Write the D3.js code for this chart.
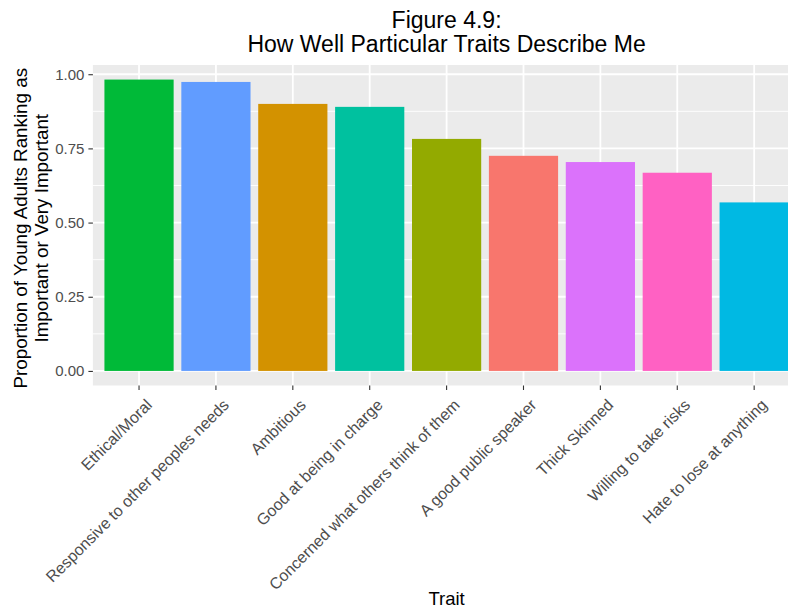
<!DOCTYPE html>
<html>
<head>
<meta charset="utf-8">
<script src="https://cdn.jsdelivr.net/npm/d3@7/dist/d3.min.js"></script>
<style>
  html, body { margin: 0; padding: 0; background: #ffffff; }
  svg { display: block; font-family: "Liberation Sans", Arial, sans-serif; }
</style>
</head>
<body>
<svg id="chart" width="788" height="608"></svg>
<script>
// Traits, ordered by proportion (descending)
const traits = [
  "Ethical/Moral",
  "Responsive to other peoples needs",
  "Ambitious",
  "Good at being in charge",
  "Concerned what others think of them",
  "A good public speaker",
  "Thick Skinned",
  "Willing to take risks",
  "Hate to lose at anything"
];
// Proportion of young adults ranking each trait as important or very important
const proportions = [0.982, 0.974, 0.900, 0.890, 0.782, 0.725, 0.704, 0.668, 0.568];
const yTicks = [0, 0.25, 0.5, 0.75, 1.0];
const yMinorTicks = [0.125, 0.375, 0.625, 0.875];
// Discrete hue palette, assigned to traits in alphabetical order
const huePalette = ["#F8766D", "#D39200", "#93AA00", "#00BA38", "#00C19F",
                    "#00B9E3", "#619CFF", "#DB72FB", "#FF61C3"];
const titleLines = ["Figure 4.9:", "How Well Particular Traits Describe Me"];
const yTitleLines = ["Proportion of Young Adults Ranking as", "Important or Very Important"];
const xTitle = "Trait";

const data = traits.map((t, i) => ({ trait: t, value: proportions[i] }));

const svg = d3.select("#chart");
const panel = { left: 92.9, right: 800.3, top: 65, bottom: 385.5 };

const maxV = d3.max(proportions);
const x = d3.scaleBand()
  .domain(traits)
  .range([panel.left, panel.right])
  .paddingInner(0.1)
  .paddingOuter(0.15);
const y = d3.scaleLinear()
  .domain([-0.05 * maxV, 1.05 * maxV])
  .range([panel.bottom, panel.top]);
const fill = d3.scaleOrdinal()
  .domain(traits.slice().sort(d3.ascending))
  .range(huePalette);

// Panel background
svg.append("rect")
  .attr("x", panel.left).attr("y", panel.top)
  .attr("width", panel.right - panel.left)
  .attr("height", panel.bottom - panel.top)
  .attr("fill", "#EBEBEB");

const grid = svg.append("g");
grid.selectAll("line.minor").data(yMinorTicks).join("line")
  .attr("class", "minor")
  .attr("x1", panel.left).attr("x2", panel.right)
  .attr("y1", d => y(d)).attr("y2", d => y(d))
  .attr("stroke", "#ffffff").attr("stroke-width", 0.9);
grid.selectAll("line.majory").data(yTicks).join("line")
  .attr("class", "majory")
  .attr("x1", panel.left).attr("x2", panel.right)
  .attr("y1", d => y(d)).attr("y2", d => y(d))
  .attr("stroke", "#ffffff").attr("stroke-width", 1.8);
grid.selectAll("line.majorx").data(traits).join("line")
  .attr("class", "majorx")
  .attr("x1", d => x(d) + x.bandwidth() / 2).attr("x2", d => x(d) + x.bandwidth() / 2)
  .attr("y1", panel.top).attr("y2", panel.bottom)
  .attr("stroke", "#ffffff").attr("stroke-width", 1.8);

// Bars
svg.append("g").selectAll("rect").data(data).join("rect")
  .attr("x", d => x(d.trait))
  .attr("width", x.bandwidth())
  .attr("y", d => y(d.value))
  .attr("height", d => y(0) - y(d.value))
  .attr("fill", d => fill(d.trait));

// Y axis
const yAxis = svg.append("g")
  .attr("transform", `translate(${panel.left},0)`)
  .call(d3.axisLeft(y).tickValues(yTicks).tickFormat(d3.format(".2f"))
        .tickSize(4.5).tickPadding(4));
yAxis.select(".domain").remove();
yAxis.selectAll(".tick line").attr("stroke", "#333333").attr("stroke-width", 1.1);
yAxis.selectAll(".tick text")
  .attr("fill", "#4D4D4D").style("font-size", "15px")
  .style("font-family", "'Liberation Sans', Arial, sans-serif");

// X axis
const xAxis = svg.append("g")
  .attr("transform", `translate(0,${panel.bottom})`)
  .call(d3.axisBottom(x).tickSize(4.5).tickPadding(4));
xAxis.select(".domain").remove();
xAxis.selectAll(".tick line").attr("stroke", "#333333").attr("stroke-width", 1.1);
xAxis.selectAll(".tick text")
  .attr("fill", "#4D4D4D").style("font-size", "16px")
  .style("font-family", "'Liberation Sans', Arial, sans-serif")
  .attr("text-anchor", "end")
  .attr("dy", null)
  .attr("y", null)
  .attr("transform", "translate(14,20.5) rotate(-45)");

// Title
svg.append("g").selectAll("text").data(titleLines).join("text")
  .attr("x", (panel.left + panel.right) / 2)
  .attr("y", (d, i) => 28 + i * 24)
  .attr("text-anchor", "middle")
  .attr("fill", "#000000")
  .style("font-size", "23px")
  .text(d => d);

// Y axis title
svg.append("g").selectAll("text").data(yTitleLines).join("text")
  .attr("transform", (d, i) => `translate(${27 + i * 21},${(panel.top + panel.bottom) / 2 + 3}) rotate(-90)`)
  .attr("text-anchor", "middle")
  .attr("fill", "#000000")
  .style("font-size", "18.8px")
  .text(d => d);

// X axis title
svg.append("text")
  .attr("x", (panel.left + panel.right) / 2)
  .attr("y", 605)
  .attr("text-anchor", "middle")
  .attr("fill", "#000000")
  .style("font-size", "18.5px")
  .text(xTitle);
</script>
</body>
</html>
